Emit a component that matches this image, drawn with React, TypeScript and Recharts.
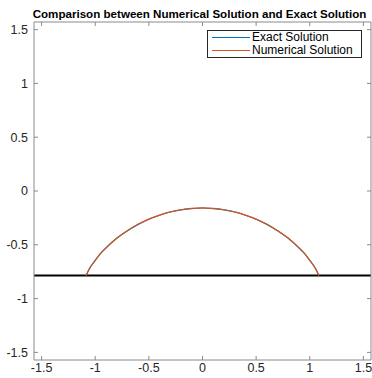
import { LineChart, Line, XAxis, YAxis, ReferenceLine, Legend } from "recharts";

const HALF_PI = 1.5708;
const ticks = [-1.5, -1, -0.5, 0, 0.5, 1, 1.5];
const tickLabels = ["-1.5", "-1", "-0.5", "0", "0.5", "1", "1.5"];

// arc
const arcX = [
  -1.085, -1.05, -1.0, -0.95, -0.9, -0.8, -0.7, -0.6, -0.5, -0.4, -0.3, -0.2, -0.1, 0,
  0.1, 0.2, 0.3, 0.4, 0.5, 0.6, 0.7, 0.8, 0.9, 0.95, 1.0, 1.05, 1.085,
];
const exactY = [
  -0.785, -0.715, -0.645, -0.58, -0.53, -0.44, -0.37, -0.31, -0.262, -0.225, -0.195,
  -0.175, -0.163, -0.158, -0.163, -0.175, -0.195, -0.225, -0.262, -0.31, -0.37, -0.44,
  -0.53, -0.58, -0.645, -0.715, -0.785,
];
const numericalY = [
  -0.785, -0.714, -0.644, -0.579, -0.529, -0.439, -0.369, -0.309, -0.261, -0.224, -0.194,
  -0.174, -0.162, -0.157, -0.162, -0.174, -0.194, -0.224, -0.261, -0.309, -0.369, -0.439,
  -0.529, -0.579, -0.644, -0.714, -0.785,
];
const baseY = -0.7854;

const series = [
  { name: "Exact Solution", color: "#0072BD" },
  { name: "Numerical Solution", color: "#D95319" },
];

const exactData = arcX.map((x, i) => ({ x, y: exactY[i] }));
const numData = arcX.map((x, i) => ({ x, y: numericalY[i] }));

const font = "'Liberation Sans', Arial, Helvetica, sans-serif";
const tickStyle = { fontSize: 12.5, fill: "#262626", fontFamily: font };
const axisStroke = "#8a8a8a";
const fmt = (v: number) => tickLabels[ticks.indexOf(v)] ?? String(v);

function LegendBox() {
  return (
    <div
      style={{
        border: "1px solid #262626",
        background: "#fff",
        width: 155,
        height: 28,
        boxSizing: "border-box",
        fontFamily: font,
        fontSize: 12,
        color: "#000",
        lineHeight: "13px",
        paddingTop: 0,
      }}
    >
      {series.map((s) => (
        <div key={s.name} style={{ display: "flex", alignItems: "center", height: 13 }}>
          <div style={{ width: 38, height: 1, background: s.color, marginLeft: 4, marginRight: 2 }} />
          <span>{s.name}</span>
        </div>
      ))}
    </div>
  );
}

export default function App() {
  return (
    <div style={{ position: "absolute", left: 0, top: 0, width: 372, height: 378, background: "#fff" }}>
      <div
        style={{
          position: "absolute",
          left: 0,
          width: 399,
          top: 7,
          textAlign: "center",
          fontFamily: font,
          fontWeight: "bold",
          fontSize: 11.6,
          color: "#000",
          whiteSpace: "nowrap",
          lineHeight: "13px",
        }}
      >
        Comparison between Numerical Solution and Exact Solution
      </div>
      <LineChart width={372} height={378} margin={{ top: 21, right: 0, bottom: 0, left: 4 }}>
        <XAxis
          xAxisId="b"
          type="number"
          dataKey="x"
          domain={[-HALF_PI, HALF_PI]}
          ticks={ticks}
          tickFormatter={fmt}
          allowDataOverflow
          height={18}
          tickSize={-4}
          tickMargin={7}
          tick={tickStyle}
          stroke={axisStroke}
        />
        <XAxis
          xAxisId="t"
          orientation="top"
          type="number"
          dataKey="x"
          domain={[-HALF_PI, HALF_PI]}
          ticks={ticks}
          allowDataOverflow
          height={1}
          tickSize={-4}
          tick={() => <g />}
          stroke={axisStroke}
        />
        <YAxis
          yAxisId="l"
          type="number"
          dataKey="y"
          domain={[-HALF_PI, HALF_PI]}
          ticks={ticks}
          tickFormatter={fmt}
          allowDataOverflow
          width={30}
          tickSize={-4}
          tickMargin={10}
          tick={tickStyle}
          stroke={axisStroke}
        />
        <YAxis
          yAxisId="r"
          orientation="right"
          type="number"
          dataKey="y"
          domain={[-HALF_PI, HALF_PI]}
          ticks={ticks}
          allowDataOverflow
          width={1}
          tickSize={-4}
          tick={() => <g />}
          stroke={axisStroke}
        />
        <ReferenceLine xAxisId="b" yAxisId="l" y={baseY} stroke="#000" strokeWidth={2} />
        <Line
          xAxisId="b"
          yAxisId="l"
          data={exactData}
          dataKey="y"
          name={series[0].name}
          stroke={series[0].color}
          strokeWidth={1.2}
          type="monotone"
          dot={false}
          isAnimationActive={false}
        />
        <Line
          xAxisId="b"
          yAxisId="l"
          data={numData}
          dataKey="y"
          name={series[1].name}
          stroke={series[1].color}
          strokeWidth={1.2}
          type="monotone"
          dot={false}
          isAnimationActive={false}
        />
        <Legend
          layout="vertical"
          align="center"
          verticalAlign="middle"
          wrapperStyle={{ left: 207, top: 30, width: 155 }}
          content={() => <LegendBox />}
        />
      </LineChart>
    </div>
  );
}
